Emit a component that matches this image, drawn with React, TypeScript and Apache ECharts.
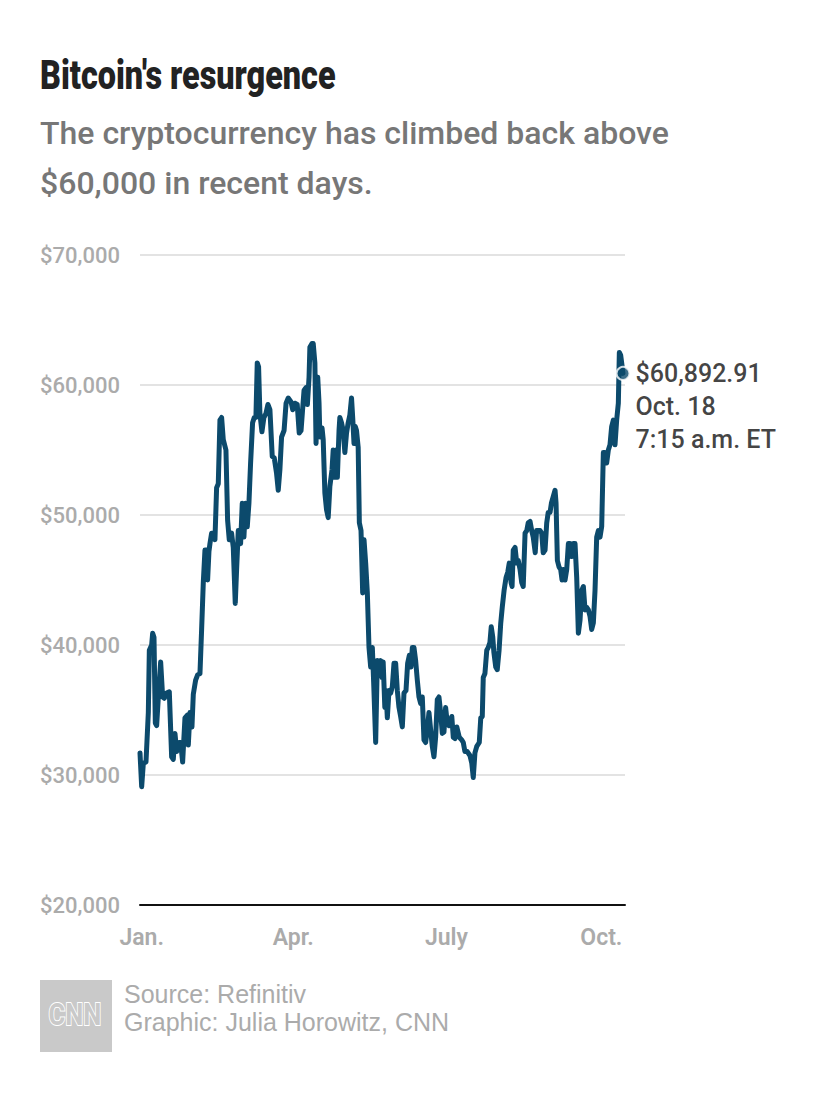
import React, { useEffect, useRef } from "react";
import * as echarts from "echarts";

const titleText = "Bitcoin's resurgence";
const subtitleLines = ["The cryptocurrency has climbed back above", "$60,000 in recent days."];
const sourceLines = ["Source: Refinitiv", "Graphic: Julia Horowitz, CNN"];

// x = days since Jan. 1, y = price in US$
const days = [
  0, 1, 2, 3.6, 5, 5.6, 7, 7.6, 8.4, 9.2,
  10, 11, 12.4, 13.6, 14.6, 16, 17.6, 19, 20, 21,
  22, 23.4, 24.4, 25.6, 27, 28.4, 29, 30, 31.2, 32,
  33.4, 34.6, 36, 37, 38, 39, 40, 40.6, 41.4, 42,
  43, 44, 45, 46, 47, 48, 49, 50, 51.6, 52.6,
  53.6, 55, 56, 57.2, 58, 59, 60.4, 61.4, 62.4, 63.4,
  64.4, 65.4, 66.4, 67.6, 68.6, 69.6, 70.4, 71.2, 72, 73.2,
  74.4, 75.6, 76.8, 78, 79.4, 80.6, 82, 83, 84, 85,
  86.5, 87.7, 89, 90.7, 91.7, 93, 94.4, 95.6, 96.7, 97.5,
  98.5, 99.7, 100.5, 101.5, 102, 103.3, 104, 105, 105.7, 106.7,
  107.5, 108, 109.3, 110, 111, 112, 113, 114, 115.3, 116,
  116.7, 117.7, 118.5, 119.5, 120, 121, 122, 123, 124, 125,
  126, 127, 127.7, 128.5, 129.3, 130, 131, 131.7, 132.7, 133.7,
  134.5, 135.5, 136.5, 137.5, 138.5, 139.5, 140.3, 141.5, 142.5, 143.5,
  144.5, 145.3, 146, 147, 147.7, 148.5, 149.5, 150.5, 151.5, 152.5,
  153.5, 154.5, 155.5, 156.5, 157.5, 158.5, 159.7, 160.7, 161.7, 162.7,
  163.5, 164.5, 165.5, 166.5, 167.5, 168.5, 169.5, 170.5, 171.5, 172.5,
  173.5, 174.5, 175.5, 176.5, 177.5, 178.5, 179.5, 180.5, 181.5, 182.5,
  183.5, 184.5, 185.5, 187.2, 188.1, 189.1, 190.2, 191.7, 193.2, 194.1,
  195.1, 196.5, 198.1, 199.2, 200.1, 201.1, 202.2, 203.7, 204.6, 205.5,
  206.1, 207.1, 208.2, 209.1, 210.1, 210.9, 211.8, 212.5, 213.6, 214.5,
  215.6, 216.6, 217.5, 218.6, 219.8, 220.8, 221.7, 222.8, 223.4, 224.1,
  225.2, 226.2, 227.1, 228.2, 229.2, 230.1, 231.2, 232.2, 233.1, 234.2,
  235.2, 236.1, 237.3, 238.1, 239.1, 240.2, 241.2, 242.1, 243.2, 244.2,
  245.1, 246.2, 247, 248.1, 249.2, 249.8, 250.6, 251.6, 252.6, 253.4,
  254.2, 255.2, 256.2, 257.2, 258.2, 259.2, 260.2, 261.2, 262.2, 263.2,
  264.2, 265.2, 266.2, 267.2, 268.2, 269.2, 270.2, 271.2, 272.2, 273.2,
  274.2, 275.2, 276.2, 277.2, 278.2, 279.2, 280.2, 281.2, 282.2, 283.2,
  284.2, 285.2, 286.2, 287.2, 287.8, 288.6, 290,
];

const prices = [
  31700, 29100, 30900, 31000, 34800, 39600, 40000, 40900, 40600, 34000,
  33800, 36000, 38700, 36000, 35900, 36300, 36400, 31400, 31200, 33200,
  31800, 32500, 32500, 31000, 34400, 34600, 32300, 34800, 33700, 36200,
  37300, 37700, 37800, 41200, 44800, 47300, 47300, 45000, 47200, 47800,
  48600, 48600, 48100, 52100, 52400, 57300, 57500, 55800, 55000, 49600,
  48100, 48600, 47500, 43200, 45800, 48800, 47800, 50900, 48300, 50900,
  49100, 50900, 54000, 57100, 57500, 57500, 61700, 61400, 57800, 56400,
  57500, 57800, 58500, 58100, 54500, 54400, 53200, 51900, 53500, 56000,
  56500, 58600, 59000, 58700, 58100, 58600, 58500, 56300, 56500, 57900,
  59600, 59800, 58500, 60600, 62900, 63200, 63200, 61700, 55500, 60600,
  58600, 56000, 56700, 55800, 51700, 50400, 49800, 52200, 53500, 55000,
  52900, 55000, 52900, 56500, 57500, 57100, 56500, 54800, 56300, 57100,
  57700, 59000, 57500, 55500, 56800, 56500, 55200, 49400, 48800, 44000,
  48100, 46300, 44000, 39800, 38300, 39800, 37100, 32500, 38800, 38100,
  38800, 37500, 38700, 35200, 36500, 34400, 36500, 36300, 36800, 38600,
  38600, 36500, 35200, 34500, 33700, 36300, 36500, 38600, 39200, 38300,
  39800, 39800, 38800, 37300, 36000, 35500, 36000, 32700, 32500, 33500,
  34800, 33500, 32200, 31400, 32900, 35800, 36000, 34800, 33200, 33300,
  35200, 34000, 33800, 34500, 32900, 32800, 33700, 32900, 32700, 32500,
  31800, 31800, 31500, 30900, 29800, 31700, 32200, 32500, 34400, 34500,
  37500, 37800, 39600, 39800, 40200, 41400, 40600, 39400, 38300, 38100,
  39600, 41700, 42900, 44200, 45200, 45600, 46300, 44800, 44500, 47300,
  47500, 46300, 46500, 45800, 44800, 44500, 48600, 48800, 49400, 49500,
  48800, 48300, 47100, 48800, 48800, 48800, 48600, 47100, 47300, 49400,
  50200, 50200, 50900, 51400, 51900, 50900, 46500, 46000, 45800, 45000,
  45800, 45000, 45800, 47800, 47800, 46800, 47800, 47800, 45200, 40900,
  41900, 44200, 44500, 42700, 42900, 42700, 42200, 41200, 41700, 44200,
  48300, 48800, 48300, 49100, 54800, 54800, 54000, 55000, 55400, 56800,
  57300, 55400, 57300, 58600, 62500, 62300, 60892.91,
];

const monthTickDays = [1, 92, 184, 277];
const monthLabels = ["Jan.", "Apr.", "July", "Oct."];
const yTicks = [20000, 30000, 40000, 50000, 60000, 70000];
const endDate = "Oct. 18";
const endTime = "7:15 a.m. ET";

const LINE_COLOR = "#0c4a6c";
const GREY = "#ababab";

export default function App() {
  const ref = useRef<HTMLDivElement>(null);

  useEffect(() => {
    if (!ref.current) return;
    const chart = echarts.init(ref.current, null, { renderer: "svg" });
    const n = Math.min(days.length, prices.length);
    const lineData: number[][] = [];
    for (let i = 0; i < n; i++) lineData.push([days[i], prices[i]]);
    const last = lineData[lineData.length - 1];

    const fmtMoney = (v: number) =>
      "$" + v.toLocaleString("en-US", { minimumFractionDigits: v % 1 ? 2 : 0, maximumFractionDigits: 2 });

    chart.setOption({
      animation: false,
      backgroundColor: "#ffffff",
      grid: { left: 140, right: 205, top: 255, bottom: 197, containLabel: false },
      xAxis: {
        type: "value",
        min: 0,
        max: 291.2,
        axisLine: { show: true, lineStyle: { color: "#111", width: 2 } },
        axisTick: { show: false },
        splitLine: { show: false },
        axisLabel: {
          customValues: monthTickDays,
          formatter: (v: number) => {
            const idx = monthTickDays.indexOf(v);
            return idx >= 0 ? monthLabels[idx] : "";
          },
          color: GREY,
          fontFamily: "Roboto",
          fontWeight: 600,
          fontSize: 23,
          margin: 21,
        },
      },
      yAxis: {
        type: "value",
        min: yTicks[0],
        max: yTicks[yTicks.length - 1],
        interval: 10000,
        axisLine: { show: false },
        axisTick: { show: false },
        splitLine: { show: true, lineStyle: { color: "#dadada", width: 1.5 } },
        axisLabel: {
          formatter: (v: number) => fmtMoney(v),
          color: GREY,
          fontFamily: "Roboto",
          fontWeight: 500,
          fontSize: 22,
          margin: 20,
        },
      },
      series: [
        {
          type: "line",
          data: lineData,
          showSymbol: false,
          symbol: "none",
          lineStyle: { color: LINE_COLOR, width: 5, cap: "round", join: "round" },
          z: 3,
        },
        {
          type: "scatter",
          data: [last],
          symbol: "circle",
          symbolSize: 13,
          itemStyle: { color: LINE_COLOR, borderColor: "#fff", borderWidth: 2 },
          z: 5,
          label: {
            show: true,
            position: "right",
            distance: 5,
            offset: [0, 33],
            formatter: () => `${fmtMoney(last[1])}\n${endDate}\n${endTime}`,
            color: "#111",
            fontFamily: "Roboto",
            fontWeight: 500,
            fontSize: 25,
            lineHeight: 33,
            align: "left",
          },
        },
      ],
      graphic: [
        {
          type: "text",
          x: 40,
          y: 75,
          scaleX: 0.81,
          style: {
            text: titleText,
            fill: "#222",
            font: "900 40px Roboto",
            verticalAlign: "middle",
          },
        },
        {
          type: "text",
          x: 40,
          y: 133,
          style: {
            text: subtitleLines[0],
            fill: "#777",
            font: "500 32px Roboto",
            verticalAlign: "middle",
          },
        },
        {
          type: "text",
          x: 40,
          y: 183,
          style: {
            text: subtitleLines[1],
            fill: "#777",
            font: "500 32px Roboto",
            verticalAlign: "middle",
          },
        },
        {
          type: "rect",
          shape: { x: 40, y: 980, width: 72, height: 72 },
          style: { fill: "#c9c9c9" },
        },
        {
          type: "text",
          x: 75,
          y: 1014,
          scaleX: 0.8,
          style: {
            text: "CNN",
            fill: "#c9c9c9",
            stroke: "#ffffff",
            lineWidth: 2,
            font: "bold 32px Roboto",
            align: "center",
            verticalAlign: "middle",
          },
        },
        {
          type: "text",
          x: 124,
          y: 994,
          style: {
            text: sourceLines[0],
            fill: GREY,
            font: "400 25px 'Liberation Sans', Arial, sans-serif",
            verticalAlign: "middle",
          },
        },
        {
          type: "text",
          x: 124,
          y: 1022,
          style: {
            text: sourceLines[1],
            fill: GREY,
            font: "400 25px 'Liberation Sans', Arial, sans-serif",
            verticalAlign: "middle",
          },
        },
      ],
    });
    return () => chart.dispose();
  }, []);

  return (
    <div
      ref={ref}
      style={{ position: "absolute", left: 0, top: 0, width: 830, height: 1102, background: "#fff" }}
    />
  );
}
